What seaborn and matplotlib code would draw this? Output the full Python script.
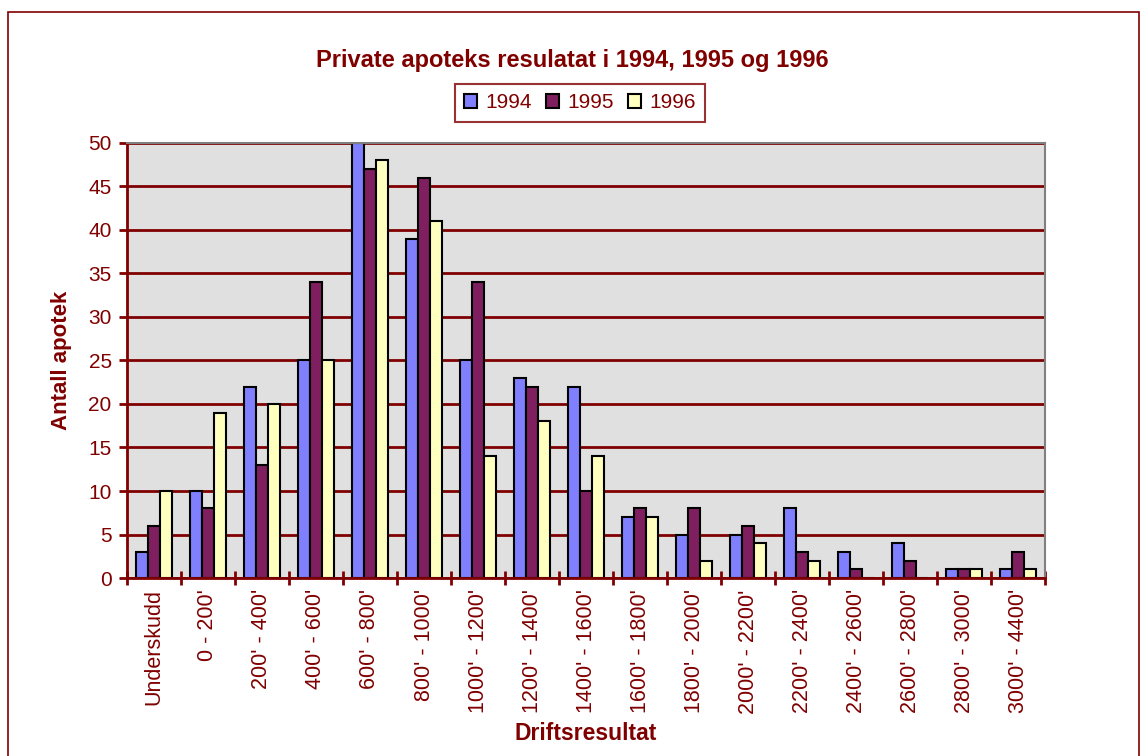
import numpy as np
import pandas as pd
import matplotlib
matplotlib.use('Agg')
import matplotlib.pyplot as plt
from matplotlib.patches import Rectangle
from matplotlib.ticker import FixedLocator
import seaborn as sns

# ── data ──────────────────────────────────────────────────────────────────────
categories = ["Underskudd", "0 - 200'", "200' - 400'", "400' - 600'", "600' - 800'",
              "800' - 1000'", "1000' - 1200'", "1200' - 1400'", "1400' - 1600'",
              "1600' - 1800'", "1800' - 2000'", "2000' - 2200'", "2200' - 2400'",
              "2400' - 2600'", "2600' - 2800'", "2800' - 3000'", "3000' - 4400'"]
years = ['1994', '1995', '1996']
v1994 = [3, 10, 22, 25, 50, 39, 25, 23, 22, 7, 5, 5, 8, 3, 4, 1, 1]
v1995 = [6, 8, 13, 34, 47, 46, 34, 22, 10, 8, 8, 6, 3, 1, 2, 1, 3]
v1996 = [10, 19, 20, 25, 48, 41, 14, 18, 14, 7, 2, 4, 2, 0, 0, 1, 1]

DARK_RED = '#800000'
colors = ['#8080FF', '#7F1F5F', '#FFFFC0']

df = pd.DataFrame({'Kategori': categories * 3,
                   'Aar': np.repeat(years, len(categories)),
                   'Antall': v1994 + v1995 + v1996})

sns.set_style('white')
plt.rcParams['font.family'] = ['Liberation Sans', 'DejaVu Sans']

fig = plt.figure(figsize=(11.44, 7.56), dpi=100)
ax = fig.add_axes([0.111, 0.2354, 0.8025, 0.5756])

sns.barplot(data=df, x='Kategori', y='Antall', hue='Aar', palette=colors,
            width=0.68, edgecolor='black', linewidth=1.5, saturation=1,
            ax=ax, legend=False)

ax.set_facecolor('#E0E0E0')
ax.set_ylim(0, 50)
ax.set_xlim(-0.5, len(categories) - 0.5)
ax.set_yticks(np.arange(0, 51, 5))
ax.yaxis.grid(True, color=DARK_RED, linewidth=2)
ax.set_axisbelow(True)

for side in ['top', 'right']:
    ax.spines[side].set_color('#808080')
    ax.spines[side].set_linewidth(1.5)
for side in ['left', 'bottom']:
    ax.spines[side].set_color(DARK_RED)
    ax.spines[side].set_linewidth(2)

ax.tick_params(axis='y', direction='out', length=6, width=2, color=DARK_RED,
               labelcolor=DARK_RED, labelsize=15, left=True, pad=5)
ax.set_xticks(range(len(categories)))
ax.set_xticklabels(categories, rotation=90, fontsize=15.5, color=DARK_RED)
ax.tick_params(axis='x', which='major', length=0, pad=8)
ax.xaxis.set_minor_locator(FixedLocator(np.arange(-0.5, len(categories), 1)))
ax.tick_params(axis='x', which='minor', direction='inout', length=10, width=2,
               color=DARK_RED, bottom=True)

ax.set_xlabel('Driftsresultat', fontsize=16.5, fontweight='bold', color=DARK_RED,
              labelpad=6)
ax.set_ylabel('Antall apotek', fontsize=16, fontweight='bold', color=DARK_RED,
              labelpad=12)

fig.text(0.5, 0.92, 'Private apoteks resulatat i 1994, 1995 og 1996',
         ha='center', va='center', fontsize=17, fontweight='bold', color=DARK_RED)

handles = [Rectangle((0, 0), 1, 1, facecolor=c, edgecolor='black', linewidth=1.5)
           for c in colors]
leg = fig.legend(handles, years, loc='center', bbox_to_anchor=(0.507, 0.864),
                 ncol=3, frameon=True, fancybox=False, fontsize=15,
                 handlelength=0.6, handleheight=0.6, handletextpad=0.4,
                 columnspacing=0.7, borderpad=0.45)
for t in leg.get_texts():
    t.set_color(DARK_RED)
leg.get_frame().set_edgecolor(DARK_RED)
leg.get_frame().set_linewidth(1.5)

fig.patches.append(Rectangle((8 / 1144, -0.05), 1131 / 1144, 1.05 - 12 / 756,
                             transform=fig.transFigure, fill=False,
                             edgecolor=DARK_RED, linewidth=1.2))

fig.savefig('out.png', dpi=100)
